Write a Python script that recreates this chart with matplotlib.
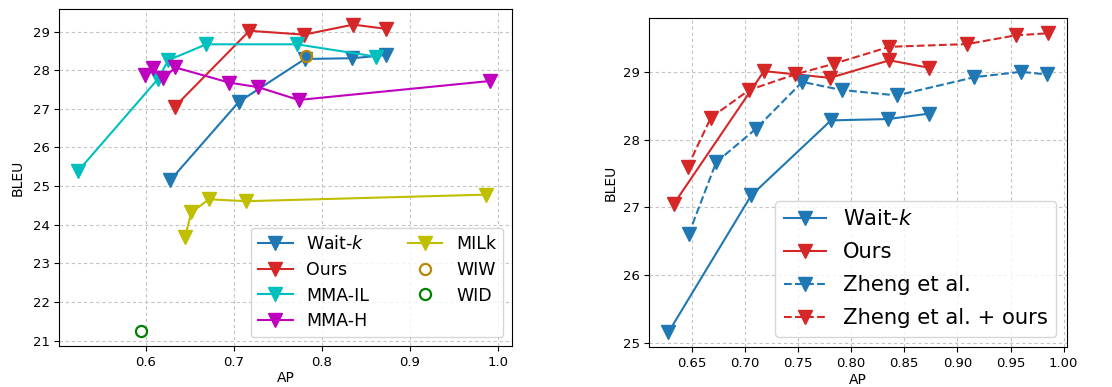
import matplotlib
matplotlib.use("Agg")
import matplotlib.pyplot as plt

# left panel
waitk_ap = [0.628, 0.706, 0.781, 0.835, 0.873]
waitk_bleu = [25.15, 27.18, 28.29, 28.31, 28.39]
ours_ap = [0.633, 0.718, 0.780, 0.836, 0.873]
ours_bleu = [27.05, 29.02, 28.92, 29.18, 29.07]
mmail_ap = [0.523, 0.614, 0.626, 0.669, 0.772, 0.862]
mmail_bleu = [25.38, 27.77, 28.26, 28.67, 28.67, 28.35]
mmah_ap = [0.599, 0.608, 0.620, 0.634, 0.695, 0.728, 0.774, 0.991]
mmah_bleu = [27.88, 28.05, 27.79, 28.07, 27.68, 27.56, 27.23, 27.72]
milk_ap = [0.645, 0.652, 0.672, 0.714, 0.987]
milk_bleu = [23.69, 24.32, 24.66, 24.61, 24.78]
wiw_ap, wiw_bleu = [0.782], [28.38]
wid_ap, wid_bleu = [0.595], [21.26]

# right panel
zheng_ap = [0.647, 0.673, 0.710, 0.754, 0.791, 0.843, 0.916, 0.960, 0.984]
zheng_bleu = [26.60, 27.67, 28.16, 28.86, 28.74, 28.66, 28.93, 29.01, 28.97]
zo_ap = [0.646, 0.668, 0.704, 0.747, 0.784, 0.836, 0.909, 0.955, 0.985]
zo_bleu = [27.60, 28.33, 28.74, 28.97, 29.13, 29.38, 29.42, 29.55, 29.58]

ms = 9.5
grid_kw = dict(linestyle=(0, (3, 2.5)), color="#c4c4c4", linewidth=0.8)
fig = plt.figure(figsize=(11.12, 3.87), dpi=100)

ax1 = fig.add_axes([0.0533, 0.106, 0.4069, 0.870])
ax1.plot(waitk_ap, waitk_bleu, "v-", color="C0", ms=ms, label="Wait-$k$")
ax1.plot(ours_ap, ours_bleu, "v-", color="C3", ms=ms, label="Ours")
ax1.plot(mmail_ap, mmail_bleu, "v-", color="c", ms=ms, label="MMA-IL")
ax1.plot(mmah_ap, mmah_bleu, "v-", color="m", ms=ms, label="MMA-H")
ax1.plot(milk_ap, milk_bleu, "v-", color="y", ms=ms, label="MILk")
ax1.plot(wiw_ap, wiw_bleu, "o", mfc="none", mec="darkgoldenrod", mew=1.6, ms=8, label="WIW")
ax1.plot(wid_ap, wid_bleu, "o", mfc="none", mec="g", mew=1.6, ms=8, label="WID")
ax1.set_xlim(0.502, 1.016)
ax1.set_xlabel("AP", fontsize=10, labelpad=2)
ax1.set_ylabel("BLEU", fontsize=10, labelpad=6)
ax1.tick_params(labelsize=9.5)
ax1.grid(True, **grid_kw)
ax1.legend(ncol=2, fontsize=12.5, loc="lower right", columnspacing=2.2,
           handlelength=2.0, labelspacing=0.45)

ax2 = fig.add_axes([0.584, 0.1025, 0.3753, 0.8501])
ax2.plot(waitk_ap, waitk_bleu, "v-", color="C0", ms=ms, label="Wait-$k$")
ax2.plot(ours_ap, ours_bleu, "v-", color="C3", ms=ms, label="Ours")
ax2.plot(zheng_ap, zheng_bleu, "v--", color="C0", ms=ms, label="Zheng et al.")
ax2.plot(zo_ap, zo_bleu, "v--", color="C3", ms=ms, label="Zheng et al. + ours")
ax2.set_xlabel("AP", fontsize=10, labelpad=2)
ax2.set_ylabel("BLEU", fontsize=10, labelpad=4)
ax2.set_yticks([25, 26, 27, 28, 29])
ax2.tick_params(labelsize=9.5)
ax2.grid(True, **grid_kw)
ax2.legend(fontsize=15.2, loc="lower right", handlelength=2.0, labelspacing=0.62)

fig.savefig("out.png", dpi=100)
